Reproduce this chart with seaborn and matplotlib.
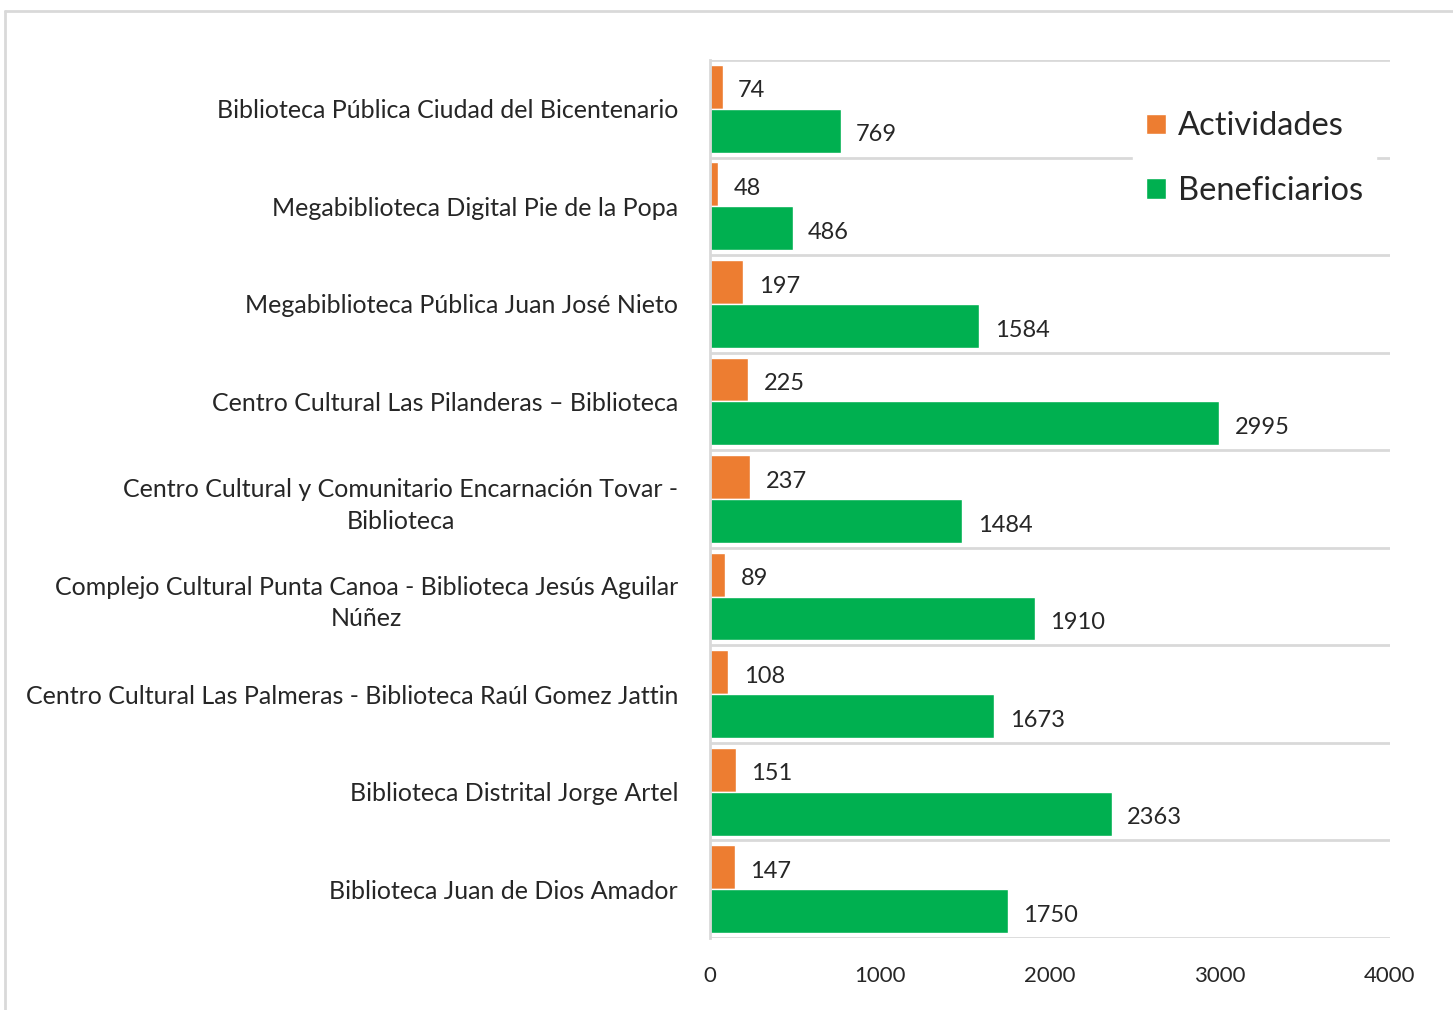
import pandas as pd
import matplotlib
matplotlib.use('Agg')
import matplotlib.pyplot as plt
from matplotlib.lines import Line2D
import seaborn as sns

bibliotecas = [
    "Biblioteca Pública Ciudad del Bicentenario",
    "Megabiblioteca Digital Pie de la Popa",
    "Megabiblioteca Pública Juan José Nieto",
    "Centro Cultural Las Pilanderas – Biblioteca",
    "Centro Cultural y Comunitario Encarnación Tovar -\nBiblioteca",
    "Complejo Cultural Punta Canoa - Biblioteca Jesús Aguilar\nNúñez",
    "Centro Cultural Las Palmeras - Biblioteca Raúl Gomez Jattin",
    "Biblioteca Distrital Jorge Artel",
    "Biblioteca Juan de Dios Amador",
]
actividades = [74, 48, 197, 225, 237, 89, 108, 151, 147]
beneficiarios = [769, 486, 1584, 2995, 1484, 1910, 1673, 2363, 1750]
x_ticks = [0, 1000, 2000, 3000, 4000]

df = pd.DataFrame({
    "biblioteca": bibliotecas * 2,
    "valor": actividades + beneficiarios,
    "serie": ["Actividades"] * len(bibliotecas) + ["Beneficiarios"] * len(bibliotecas),
})

sns.set_style("white")
plt.rcParams['font.family'] = ['Lato', 'DejaVu Sans']

fig = plt.figure(figsize=(14.53, 10.1), dpi=100)
ax = fig.add_axes([710 / 1453, 1 - 938 / 1010, 680 / 1453, 878 / 1010])

sns.barplot(data=df, y="biblioteca", x="valor", hue="serie", orient="h",
            palette={"Actividades": "#ED7D31", "Beneficiarios": "#00B050"},
            width=0.9, saturation=1, ax=ax, legend=True)

# value labels, a bit under the bar centre like the original
for cont in ax.containers:
    for bar in cont:
        w = bar.get_width()
        ax.annotate(f"{w:.0f}", (w, bar.get_y() + bar.get_height() / 2),
                    xytext=(11, -3), textcoords="offset points",
                    ha="left", va="center", fontsize=17, color="#262626")

ax.set_xlim(0, 4000)
ax.set_ylim(len(bibliotecas) - 0.5, -0.5)
ax.set_xticks(x_ticks)
ax.set_xticklabels([str(t) for t in x_ticks], fontsize=16, color="#262626")
ax.tick_params(axis="x", length=0, pad=20)
ax.tick_params(axis="y", length=0, pad=23)
for lbl in ax.get_yticklabels():
    lbl.set_fontsize(18)
    lbl.set_color("#262626")
    lbl.set_multialignment("center")
    lbl.set_linespacing(1.45)
ax.set_xlabel("")
ax.set_ylabel("")

# horizontal separators between categories
for b in range(len(bibliotecas) + 1):
    ax.axhline(b - 0.5, color="#D9D9D9", lw=2, zorder=0)
for s in ["top", "right", "bottom"]:
    ax.spines[s].set_visible(False)
ax.spines["left"].set_color("#D9D9D9")
ax.spines["left"].set_linewidth(2)

leg = ax.legend(loc="upper right", bbox_to_anchor=(1392 / 1453, 1 - 82 / 1010),
                bbox_transform=fig.transFigure, fontsize=23.5, frameon=True,
                facecolor="white", edgecolor="white", framealpha=1,
                handlelength=0.6, handleheight=0.6, handletextpad=0.35,
                labelspacing=1.05, borderpad=0.4)
leg.set_zorder(5)

# chart area border
fig.add_artist(Line2D([5 / 1453, 5 / 1453], [0, 1 - 11 / 1010], color="#D9D9D9", lw=2))
fig.add_artist(Line2D([5 / 1453, 1], [1 - 11 / 1010, 1 - 11 / 1010], color="#D9D9D9", lw=2))

fig.savefig("out.png", dpi=100)
